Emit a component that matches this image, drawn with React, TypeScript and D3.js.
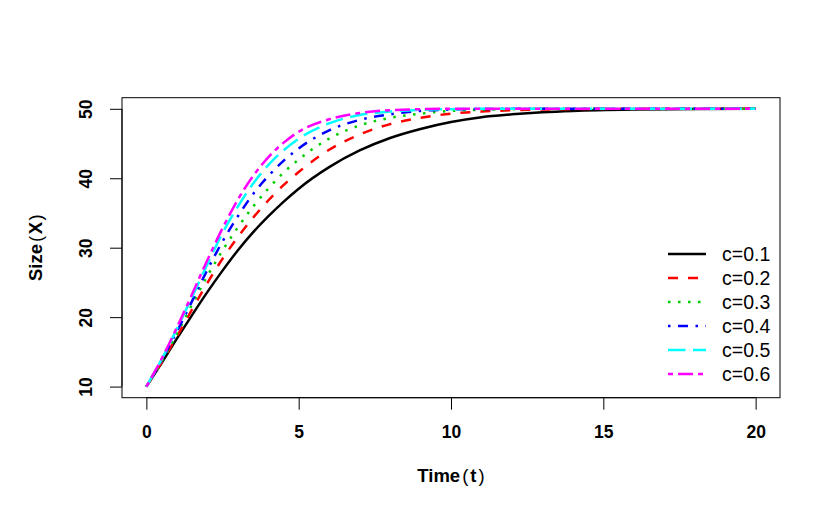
import React, {useEffect, useRef} from 'react';
import * as d3 from "d3";

// time grid the values were read at
const times = [0, 0.5, 1, 1.5, 2, 2.5, 3, 3.5, 4, 4.5, 5, 6, 7, 8, 9, 10, 11, 12, 13, 14, 16, 18, 20];

const c01 = [10, 13.4, 16.9, 20.3, 23.6, 26.7, 29.6, 32.2, 34.5, 36.6, 38.5, 41.6, 44.0, 45.8, 47.1, 48.1, 48.8, 49.2, 49.5, 49.7, 49.9, 49.97, 50];
const c02 = [10, 13.5, 17.2, 21.1, 24.9, 28.4, 31.5, 34.3, 36.8, 39.0, 40.9, 44.1, 46.3, 47.8, 48.7, 49.3, 49.6, 49.8, 49.9, 49.95, 50, 50, 50];
const c03 = [10, 13.6, 17.6, 21.8, 25.9, 29.6, 32.9, 35.9, 38.5, 40.8, 42.7, 45.7, 47.6, 48.7, 49.3, 49.7, 49.85, 49.95, 50, 50, 50, 50, 50];
const c04 = [10, 13.8, 17.9, 22.3, 26.8, 30.9, 34.5, 37.7, 40.3, 42.5, 44.3, 46.9, 48.4, 49.2, 49.7, 49.9, 49.97, 50, 50, 50, 50, 50, 50];
const c05 = [10, 13.9, 18.3, 22.9, 27.6, 32.1, 35.9, 39.2, 41.9, 44.0, 45.7, 47.9, 49.1, 49.6, 49.85, 49.95, 50, 50, 50, 50, 50, 50, 50];
const c06 = [10, 14.0, 18.5, 23.3, 28.2, 32.8, 36.9, 40.3, 43.0, 45.1, 46.7, 48.5, 49.4, 49.8, 49.95, 50, 50, 50, 50, 50, 50, 50, 50];

const seriesNames = ["c=0.1", "c=0.2", "c=0.3", "c=0.4", "c=0.5", "c=0.6"];
const seriesValues = [c01, c02, c03, c04, c05, c06];
const colors = ["#000000", "#FF0000", "#00CD00", "#0000FF", "#00FFFF", "#FF00FF"];
// R line types 1..6 at lwd 2.5
const dashes = ["none", "10,10", "2.5,7.5", "2.5,7.5,10,7.5", "17.5,7.5", "5,5,15,5"];

const xTicks = [0, 5, 10, 15, 20];
const yTicks = [10, 20, 30, 40, 50];

const FONT = "'Liberation Sans', Arial, Helvetica, sans-serif";

const App = () => {
    const ref = useRef<SVGSVGElement>(null);

    useEffect(() => {
        const svg = d3.select(ref.current);
        svg.selectAll("*").remove();

        const box = {left: 122, right: 780, top: 97.7, bottom: 397.7};

        // R style: 4% padding on each side
        const xScale = d3.scaleLinear().domain([-0.8, 20.8]).range([box.left, box.right]);
        const yScale = d3.scaleLinear().domain([8.4, 51.6]).range([box.bottom, box.top]);

        svg.append("rect")
            .attr("width", 830).attr("height", 520).attr("fill", "white");

        // curves
        const line = d3.line<number>()
            .x((d, i) => xScale(times[i]))
            .y(d => yScale(d))
            .curve(d3.curveMonotoneX);

        seriesValues.forEach((vals, k) => {
            svg.append("path")
                .attr("d", line(vals))
                .attr("fill", "none")
                .attr("stroke", colors[k])
                .attr("stroke-width", 2.5)
                .attr("stroke-dasharray", dashes[k]);
        });

        // box
        svg.append("rect")
            .attr("x", box.left).attr("y", box.top)
            .attr("width", box.right - box.left)
            .attr("height", box.bottom - box.top)
            .attr("fill", "none")
            .attr("stroke", "black")
            .attr("stroke-width", 1);

        //x axis
        const xAxis = svg.append("g")
            .attr("transform", "translate(0," + box.bottom + ")")
            .call(d3.axisBottom(xScale).tickValues(xTicks).tickSize(12).tickPadding(16).tickSizeOuter(0));
        xAxis.select(".domain").attr("d", `M${xScale(0)},0H${xScale(20)}`);
        xAxis.selectAll("text")
            .attr("font-family", FONT).attr("font-size", 17.5).attr("font-weight", "bold").attr("fill", "black");

        //y axis with rotated labels
        const yAxis = svg.append("g")
            .attr("transform", "translate(" + box.left + ",0)")
            .call(d3.axisLeft(yScale).tickValues(yTicks).tickSize(12).tickSizeOuter(0));
        yAxis.select(".domain").attr("d", `M0,${yScale(10)}V${yScale(50)}`);
        yAxis.selectAll("text")
            .attr("font-family", FONT).attr("font-size", 17.5).attr("font-weight", "bold").attr("fill", "black")
            .attr("x", null).attr("dy", null)
            .attr("text-anchor", "middle")
            .attr("transform", "translate(-35,0) rotate(-90)")
            .attr("dominant-baseline", "middle");

        // axis titles (plotmath style: thin parentheses)
        const xTitle = svg.append("text")
            .attr("x", (box.left + box.right) / 2).attr("y", 482)
            .attr("text-anchor", "middle")
            .attr("font-family", FONT).attr("font-size", 18.5).attr("font-weight", "bold");
        xTitle.append("tspan").text("Time");
        xTitle.append("tspan").attr("dx", 2).attr("font-weight", "normal").text("(");
        xTitle.append("tspan").attr("dx", 2).text("t");
        xTitle.append("tspan").attr("dx", 2).attr("font-weight", "normal").text(")");

        const yTitle = svg.append("text")
            .attr("transform", `translate(42,${(box.top + box.bottom) / 2}) rotate(-90)`)
            .attr("text-anchor", "middle")
            .attr("font-family", FONT).attr("font-size", 18.5).attr("font-weight", "bold");
        yTitle.append("tspan").text("Size");
        yTitle.append("tspan").attr("dx", 2).attr("font-weight", "normal").text("(");
        yTitle.append("tspan").attr("dx", 1.5).text("X");
        yTitle.append("tspan").attr("dx", 1.5).attr("font-weight", "normal").text(")");

        // legend
        const legend = svg.append("g");
        seriesNames.forEach((name, k) => {
            const y = 254 + k * 24;
            legend.append("line")
                .attr("x1", 668).attr("x2", 706)
                .attr("y1", y).attr("y2", y)
                .attr("stroke", colors[k])
                .attr("stroke-width", 2.5)
                .attr("stroke-dasharray", dashes[k]);
            legend.append("text")
                .attr("x", 722).attr("y", y)
                .attr("dy", "0.36em")
                .attr("font-family", FONT).attr("font-size", 19.5)
                .text(name);
        });
    }, []);

    return (
        <svg ref={ref} width={830} height={520}
             style={{position: "absolute", left: 0, top: 0, display: "block"}}/>
    );
};

export default App;
